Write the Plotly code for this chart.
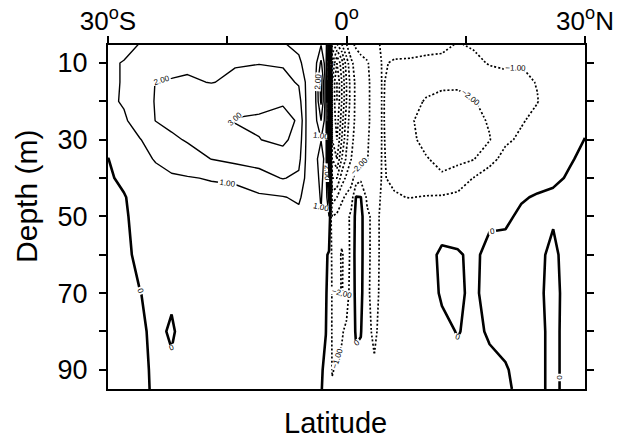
import numpy as np
import plotly.graph_objects as go

# Latitude grid (deg, negative = south) and depth grid (m)
lat = [-30, -28, -26, -24, -22, -20, -17, -14, -11, -8, -6, -5, -4, -3.2, -2.6, -2.2,
       -1.8, -1.2, -0.6, 0, 0.6, 1.2, 1.8, 2.6, 3.5, 4.5, 6, 8, 10, 12, 14, 16, 18,
       20, 22, 24, 26, 28, 30]
depth = [5, 10, 15, 20, 25, 30, 35, 40, 45, 50, 60, 70, 80, 90, 95]

# Field values, one list per latitude (top to bottom in depth)
col_s30 = [0.5, 0.85, 0.85, 0.8, 0.7, 0.35, -0.02, -0.1, -0.15, -0.2, -0.2, -0.2, -0.2, -0.2, -0.2]
col_s28 = [0.7, 1.05, 1.05, 1.1, 0.85, 0.8, 0.5, 0.15, -0.05, -0.08, -0.1, -0.1, -0.1, -0.1, -0.1]
col_s26 = [1.02, 1.5, 1.6, 1.6, 1.5, 0.95, 0.8, 0.45, 0.3, 0.2, 0.1, -0.01, -0.06, -0.08, -0.08]
col_s24 = [1.3, 1.7, 2.02, 2.05, 2.02, 1.5, 1.05, 0.8, 0.5, 0.35, 0.2, 0.1, 0.08, 0.06, 0.05]
col_s22 = [1.4, 1.8, 2.05, 2.3, 2.3, 1.8, 1.3, 0.9, 0.6, 0.45, 0.3, 0.05, -0.04, 0.05, 0.1]
col_s20 = [1.5, 1.85, 2.1, 2.4, 2.5, 2.1, 1.5, 0.95, 0.7, 0.5, 0.35, 0.25, 0.15, 0.2, 0.2]
col_s17 = [1.5, 1.9, 1.97, 2.6, 2.8, 2.4, 2.02, 1.05, 0.75, 0.55, 0.4, 0.3, 0.25, 0.25, 0.25]
col_s14 = [1.6, 1.95, 2.15, 2.7, 3.05, 2.7, 2.3, 1.1, 0.8, 0.6, 0.45, 0.35, 0.3, 0.3, 0.3]
col_s11 = [1.6, 1.97, 2.4, 2.8, 3.1, 2.98, 2.4, 1.6, 0.85, 0.65, 0.5, 0.4, 0.35, 0.35, 0.35]
col_s8 = [1.05, 1.9, 2.3, 2.9, 3.3, 3.2, 2.6, 2.05, 0.95, 0.7, 0.55, 0.45, 0.4, 0.4, 0.4]
col_s6 = [0.8, 1.15, 1.9, 2.4, 2.9, 2.6, 2.3, 1.8, 1.15, 0.75, 0.55, 0.45, 0.4, 0.4, 0.4]
col_s5 = [0.5, 0.7, 0.8, 0.8, 0.8, 0.8, 0.75, 0.7, 0.6, 0.5, 0.45, 0.4, 0.35, 0.3, 0.3]
col_s4 = [0.4, 0.5, 0.55, 0.55, 0.55, 0.55, 0.55, 0.5, 0.45, 0.4, 0.35, 0.3, 0.25, 0.2, 0.2]
col_s3_2 = [0.9, 2.2, 3.5, 3.2, 2.0, 0.95, 1.6, 1.3, 1.1, 0.95, 0.3, 0.2, 0.1, 0.05, 0.03]
col_s2_6 = [0.3, 0.4, 0.5, 0.5, 0.5, 0.5, 0.5, 0.4, 0.3, 0.2, 0.1, 0.05, 0.01, -0.1, -0.15]
col_s2_2 = [4, 6, 6, 6, 6, 5.5, 5, 4, 2.5, 1.0, -0.1, -0.2, -0.3, -0.4, -0.4]
col_s1_8 = [-4, -6, -7, -7, -7, -7, -6, -5, -3.5, -2, -1.2, -1.1, -1.1, -1.05, -0.9]
col_s1_2 = [-5, -8, -9, -9, -8.5, -8, -7, -5, -3, -1.8, -1.6, -1.5, -1.3, -0.9, -0.7]
col_s0_6 = [-4, -6.5, -7, -7, -6.5, -6, -5, -3.5, -2.2, -1.5, -2.1, -2.1, -1.1, -0.8, -0.6]
col_eq = [-3, -4.5, -5, -5, -4.5, -4.2, -3.8, -2.8, -1.8, -1.4, -1.7, -1.5, -0.8, -0.6, -0.5]
col_n0_6 = [-2.2, -3.2, -3.5, -3.5, -3.4, -3.2, -3, -2.4, -1.5, -0.7, -0.6, -0.5, -0.5, -0.4, -0.4]
col_n1_2 = [-1.8, -2.6, -2.8, -2.8, -2.8, -2.7, -2.5, -1.5, 0.05, 0.25, 0.3, 0.2, 0.1, -0.2, -0.3]
col_n1_8 = [-1.6, -2.3, -2.4, -2.4, -2.4, -2.3, -2.2, -1.2, 0.02, 0.3, 0.3, 0.25, 0.05, -0.3, -0.35]
col_n2_6 = [-1.4, -2.1, -2.2, -2.2, -2.2, -2.1, -2.05, -1.7, -1.2, -0.8, -0.8, -0.85, -0.8, -0.6, -0.5]
col_n3_5 = [-1.2, -1.5, -1.6, -1.6, -1.6, -1.6, -1.5, -1.4, -1.3, -1.3, -1.3, -1.3, -1.15, -0.9, -0.8]
col_n4_5 = [-0.9, -0.95, -0.95, -0.95, -0.95, -0.95, -0.95, -0.95, -0.9, -0.8, -0.8, -0.75, -0.7, -0.6, -0.6]
col_n6 = [-0.8, -1.05, -1.2, -1.25, -1.25, -1.2, -1.15, -1.1, -0.95, -0.6, -0.5, -0.5, -0.5, -0.45, -0.45]
col_n8 = [-0.85, -1.05, -1.35, -1.6, -1.9, -1.85, -1.7, -1.3, -1.02, -0.6, -0.4, -0.4, -0.4, -0.4, -0.4]
col_n10 = [-0.85, -1.1, -1.6, -2.1, -2.3, -2.2, -1.95, -1.6, -0.95, -0.5, -0.2, -0.2, -0.3, -0.3, -0.3]
col_n12 = [-0.9, -1.1, -1.85, -2.2, -2.4, -2.4, -2.2, -1.9, -0.9, -0.3, 0.1, 0.05, -0.1, -0.2, -0.2]
col_n14 = [-1.02, -1.15, -1.9, -2.15, -2.4, -2.4, -2.25, -1.5, -0.8, -0.3, 0.05, 0.08, 0.02, -0.1, -0.15]
col_n16 = [-0.95, -1.1, -1.7, -2.05, -2.3, -2.3, -2.05, -0.97, -0.6, -0.2, -0.1, -0.1, -0.1, -0.1, -0.1]
col_n18 = [-0.9, -0.97, -1.2, -1.7, -1.9, -2.05, -1.2, -0.7, -0.3, -0.1, 0.15, 0.2, 0.05, -0.1, -0.15]
col_n20 = [-0.85, -0.95, -1.1, -1.5, -1.3, -1.1, -0.8, -0.5, -0.25, -0.1, 0.2, 0.3, 0.2, -0.05, -0.1]
col_n22 = [-0.75, -0.98, -1.1, -1.2, -1.05, -0.9, -0.7, -0.4, -0.05, 0.1, 0.3, 0.3, 0.3, 0.2, 0.15]
col_n24 = [-0.6, -0.8, -0.98, -1.02, -0.85, -0.7, -0.5, -0.2, 0.05, 0.2, 0.1, 0.1, 0.1, 0.1, 0.1]
col_n26 = [-0.5, -0.6, -0.7, -0.7, -0.6, -0.5, -0.35, -0.1, 0.1, 0.05, -0.1, -0.15, -0.1, -0.1, -0.1]
col_n28 = [-0.4, -0.5, -0.55, -0.55, -0.45, -0.3, -0.05, 0.05, 0.15, 0.2, 0.2, 0.2, 0.15, 0.15, 0.15]
col_n30 = [-0.3, -0.4, -0.4, -0.35, -0.2, 0.02, 0.1, 0.2, 0.2, 0.2, 0.2, 0.2, 0.2, 0.2, 0.2]

columns = [col_s30, col_s28, col_s26, col_s24, col_s22, col_s20, col_s17, col_s14, col_s11,
           col_s8, col_s6, col_s5, col_s4, col_s3_2, col_s2_6, col_s2_2, col_s1_8, col_s1_2,
           col_s0_6, col_eq, col_n0_6, col_n1_2, col_n1_8, col_n2_6, col_n3_5, col_n4_5,
           col_n6, col_n8, col_n10, col_n12, col_n14, col_n16, col_n18, col_n20, col_n22,
           col_n24, col_n26, col_n28, col_n30]

x_tickvals = [-30, -15, 0, 15, 30]
x_ticktext = ["30<sup>o</sup>S", "", "0<sup>o</sup>", "", "30<sup>o</sup>N"]
y_tickvals = [10, 20, 30, 40, 50, 60, 70, 80, 90]
y_ticktext = ["10", "", "30", "", "50", "", "70", "", "90"]

z = np.array(columns, dtype=float).T  # rows = depth, cols = latitude

FONT = "Liberation Sans, Arial, Helvetica, sans-serif"


def contour(start, end, width, dash, labels, fmt=".2f"):
    return go.Contour(
        x=lat, y=depth, z=z,
        autocontour=False,
        contours=dict(coloring="none", start=start, end=end, size=1,
                      showlabels=labels,
                      labelfont=dict(size=8, color="black", family=FONT),
                      labelformat=fmt),
        line=dict(color="black", width=width, dash=dash, smoothing=0),
        showscale=False, hoverinfo="skip",
    )


fig = go.Figure()
fig.add_trace(contour(4, 8, 1.4, "solid", False))
fig.add_trace(contour(1, 3, 1.4, "solid", True))
fig.add_trace(contour(-10, -3, 1.7, "2px,2px", False))
fig.add_trace(contour(-2, -1, 1.7, "2px,2px", True))
fig.add_trace(contour(0, 0.5, 2.6, "solid", True, ".0f"))

fig.update_layout(
    template="none",
    width=629, height=444,
    margin=dict(l=108, r=44, t=45, b=55, autoexpand=False),
    plot_bgcolor="white", paper_bgcolor="white",
    showlegend=False,
    font=dict(family=FONT, color="black"),
    xaxis=dict(range=[-30, 30], side="top", tickmode="array",
               tickvals=x_tickvals, ticktext=x_ticktext,
               ticks="outside", ticklen=7, tickwidth=2, tickcolor="black",
               showline=True, linewidth=2, linecolor="black", mirror=True,
               showgrid=False, zeroline=False, automargin=False,
               ticklabelstandoff=-4,
               tickfont=dict(size=26, family=FONT, color="black")),
    yaxis=dict(range=[95, 5.3], tickmode="array",
               tickvals=y_tickvals, ticktext=y_ticktext,
               ticks="outside", ticklen=7, tickwidth=2, tickcolor="black",
               showline=True, linewidth=2, linecolor="black", mirror="ticks",
               showgrid=False, zeroline=False, automargin=False,
               ticklabelstandoff=6,
               tickfont=dict(size=27, family=FONT, color="black")),
    annotations=[
        dict(text="Depth (m)", xref="paper", yref="paper",
             x=-0.172, y=0.561, xanchor="center", yanchor="middle",
             textangle=-90, showarrow=False,
             font=dict(size=30, family=FONT, color="black")),
        dict(text="Latitude", xref="paper", yref="paper",
             x=0.476, y=-0.1, xanchor="center", yanchor="middle",
             showarrow=False,
             font=dict(size=29, family=FONT, color="black")),
    ],
)

fig.write_html("out.html",
               config={"displayModeBar": False},
               post_script="document.body.style.margin='0px';"
                           "document.body.style.overflow='hidden';")
